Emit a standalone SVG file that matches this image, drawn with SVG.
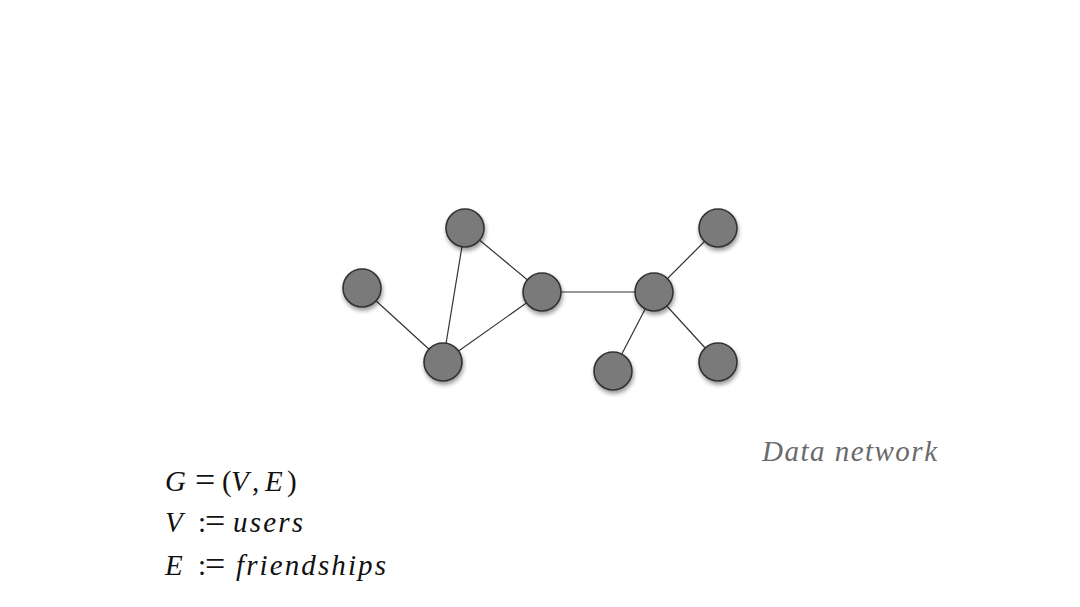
<svg xmlns="http://www.w3.org/2000/svg" width="1080" height="607" viewBox="0 0 1080 607">
<defs>
<filter id="sh" x="-50%" y="-50%" width="200%" height="200%">
<feGaussianBlur in="SourceAlpha" stdDeviation="2.2"/>
<feOffset dx="1" dy="3" result="b"/>
<feComponentTransfer><feFuncA type="linear" slope="0.4"/></feComponentTransfer>
<feMerge><feMergeNode/><feMergeNode in="SourceGraphic"/></feMerge>
</filter>
</defs>
<style>
.n{fill:#7a7a7a;stroke:#333;stroke-width:1.6;filter:url(#sh)}
.e{stroke:#333;stroke-width:1.2;fill:none}
.m{font-family:"Liberation Serif",serif;font-size:29px;fill:#111}
.i{font-style:italic}
.q{font-size:36px}
.t{font-family:"Liberation Serif",serif;font-style:italic;font-size:29px;fill:#6a6a6a}
</style>
<rect width="1080" height="607" fill="#fff"/>
<g id="edges">
<line class="e" x1="362" y1="288" x2="443" y2="362"/>
<line class="e" x1="465" y1="228" x2="443" y2="362"/>
<line class="e" x1="465" y1="228" x2="542" y2="292"/>
<line class="e" x1="443" y1="362" x2="542" y2="292"/>
<line class="e" x1="542" y1="292" x2="654" y2="292"/>
<line class="e" x1="654" y1="292" x2="718" y2="228"/>
<line class="e" x1="654" y1="292" x2="613" y2="371"/>
<line class="e" x1="654" y1="292" x2="718" y2="362"/>
</g>
<g id="n1"><circle class="n" cx="465" cy="228" r="19"/></g>
<g id="n2"><circle class="n" cx="362" cy="288" r="19"/></g>
<g id="n3"><circle class="n" cx="443" cy="362" r="19"/></g>
<g id="n4"><circle class="n" cx="542" cy="292" r="19"/></g>
<g id="n5"><circle class="n" cx="654" cy="292" r="19"/></g>
<g id="n6"><circle class="n" cx="718" cy="228" r="19"/></g>
<g id="n7"><circle class="n" cx="613" cy="371" r="19"/></g>
<g id="n8"><circle class="n" cx="718" cy="362" r="19"/></g>
<g id="labels">
<text class="m" y="491"><tspan class="i" x="165">G</tspan><tspan class="q" x="195" dy="1">=</tspan><tspan x="222" dy="-1">(</tspan><tspan class="i" x="231">V</tspan><tspan x="252">,</tspan><tspan class="i" x="265">E</tspan><tspan x="287">)</tspan></text>
<text class="m" y="532"><tspan class="i" x="165">V</tspan><tspan x="198">:</tspan><tspan class="q" x="205" dy="1">=</tspan><tspan class="i" x="233" dy="-1" textLength="70" lengthAdjust="spacing">users</tspan></text>
<text class="m" y="575"><tspan class="i" x="165">E</tspan><tspan x="198">:</tspan><tspan class="q" x="205" dy="1">=</tspan><tspan class="i" x="236" dy="-1" textLength="150" lengthAdjust="spacing">friendships</tspan></text>
<text class="t" x="762" y="461" textLength="175" lengthAdjust="spacing">Data network</text>
</g>
</svg>
